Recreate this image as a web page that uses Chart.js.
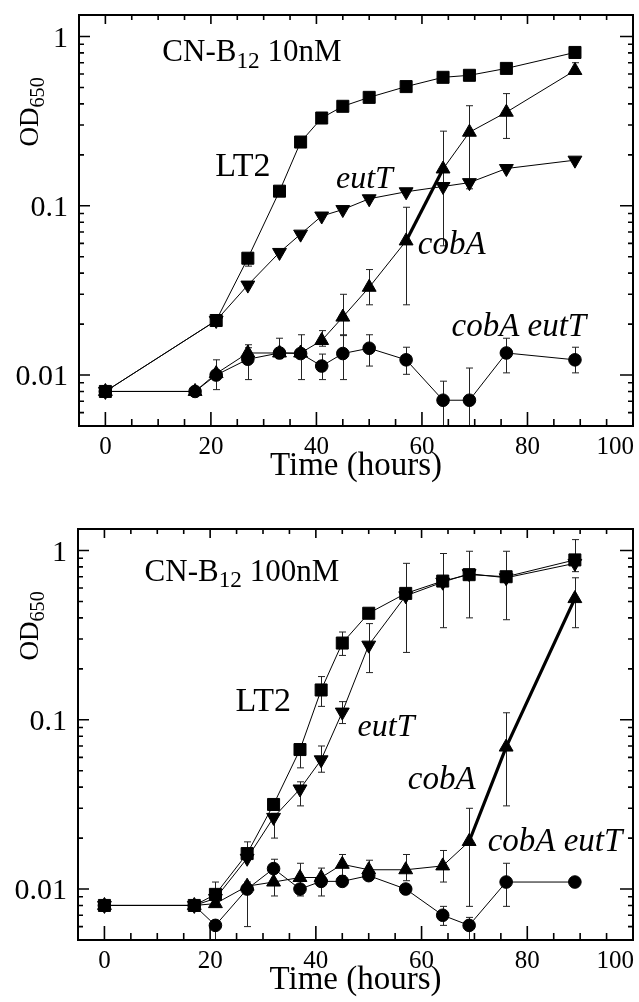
<!DOCTYPE html>
<html lang="en">
<head>
<meta charset="UTF-8">
<title>OD650 x tempo</title>
<script src="https://cdn.jsdelivr.net/npm/chart.js"></script>
<style>
  body { margin: 0; background: #fff; }
  canvas { position: absolute; left: 0; }
</style>
</head>
<body>
<canvas id="chart10" style="top:0px" width="639" height="500"></canvas>
<canvas id="chart100" style="top:500px" width="639" height="502"></canvas>

<script>
  // ---- dados do painel CN-B12 10nM ----
  var horas10 = [0, 17, 21, 27, 33, 37, 41, 45, 50, 57, 64, 69, 76, 89];
  var lt2_10 = [0.008, null, 0.021, 0.049, 0.122, 0.238, 0.33, 0.387, 0.437, 0.506, 0.574, 0.59, 0.648, 0.805];
  var eutT_10 = [0.008, null, 0.021, 0.034, 0.053, 0.068, 0.087, 0.095, 0.11, 0.121, 0.13, 0.137, 0.166, 0.186];
  var cobA_10 = [0.008, 0.008, 0.0102, 0.0135, 0.0135, 0.0135, 0.016, 0.022, 0.033, 0.062, 0.165, 0.272, 0.357, 0.63];
  var cobAeutT_10 = [0.008, 0.008, 0.01, 0.0124, 0.0135, 0.0134, 0.0113, 0.0134, 0.0144, 0.0123, 0.0071, 0.0071, 0.0135, 0.0123];
  // barras de erro [min, max]
  var erroLt2_10 = [null, null, null, [0.044, 0.05], null, null, null, null, null, null, null, null, null, null];
  var erroEutT_10 = [null, null, null, null, null, null, null, null, null, null, null, null, null, null];
  var erroCobA_10 = [null, null, null, [0.013, 0.0145], null, null, [0.0148, 0.0183], [0.0171, 0.030], [0.026, 0.042], [0.026, 0.098], [0.058, 0.276], [0.126, 0.39], [0.25, 0.46], [0.6, 0.7]];
  var erroCobAeutT_10 = [null, null, [0.0082, 0.0123], [0.0094, 0.0151], [0.0125, 0.0165], [0.0094, 0.0173], [0.0094, 0.0133], [0.0094, 0.0173], [0.0113, 0.0173], [0.0101, 0.0146], [0.0045, 0.0092], [0.0045, 0.011], [0.0103, 0.0165], [0.0103, 0.0146]];

  // ---- dados do painel CN-B12 100nM ----
  var horas100 = [0, 17, 21, 27, 32, 37, 41, 45, 50, 57, 64, 69, 76, 89];
  var lt2_100 = [0.008, 0.008, 0.0093, 0.0162, 0.0316, 0.0667, 0.15, 0.284, 0.426, 0.558, 0.66, 0.72, 0.70, 0.88];
  var eutT_100 = [0.008, 0.008, 0.0088, 0.0152, 0.0265, 0.039, 0.058, 0.111, 0.276, 0.54, 0.65, 0.73, 0.69, 0.84];
  var cobA_100 = [0.008, 0.008, 0.0082, 0.0104, 0.011, 0.0117, 0.0117, 0.014, 0.013, 0.013, 0.0137, 0.0191, 0.069, 0.52];
  var cobAeutT_100 = [0.008, 0.008, 0.0061, 0.01, 0.0132, 0.01, 0.0111, 0.0111, 0.012, 0.01, 0.007, 0.0061, 0.011, 0.011];
  var erroLt2_100 = [null, null, [0.0082, 0.011], [0.015, 0.019], null, [0.052, 0.07], [0.12, 0.18], [0.24, 0.33], null, [0.25, 0.84], [0.35, 0.96], [0.40, 0.99], [0.39, 0.99], [0.75, 1.16]];
  var erroEutT_100 = [null, null, null, null, [0.02, 0.028], [0.031, 0.043], [0.049, 0.07], [0.095, 0.128], [0.19, 0.37], null, null, null, null, null];
  var erroCobA_100 = [null, null, null, null, [0.0091, 0.015], [0.0091, 0.0142], null, [0.012, 0.016], [0.012, 0.0148], [0.0112, 0.016], [0.011, 0.0169], [0.0079, 0.03], [0.031, 0.11], [0.35, 0.69]];
  var erroCobAeutT_100 = [null, null, [0.0048, 0.0065], [0.006, 0.011], null, null, [0.0091, 0.0133], null, null, null, [0.0061, 0.0079], [0.0048, 0.0068], [0.0079, 0.0142], null];

  // eixos
  var ticksX = [0, 20, 40, 60, 80, 100];
  var ticksY = [0.01, 0.1, 1];
  var labelsY = ['0.01', '0.1', '1'];

  var serif = '"Liberation Serif", "DejaVu Serif", serif';

  function pontos(horas, valores, erros) {
    var lista = [];
    for (var i = 0; i < horas.length; i++) {
      if (valores[i] == null) continue;
      lista.push({ x: horas[i], y: valores[i], erro: erros[i] });
    }
    return lista;
  }

  function grossura(indices) {
    return function (ctx) {
      return indices.indexOf(ctx.p0DataIndex) >= 0 ? 3.2 : 1;
    };
  }

  function serie(dados, estilo, raio, rotacao, grossos) {
    return {
      data: dados,
      borderColor: '#000',
      borderWidth: 1,
      backgroundColor: '#000',
      pointStyle: estilo,
      pointRadius: raio,
      pointRotation: rotacao,
      pointBorderWidth: 1,
      pointBackgroundColor: '#000',
      pointBorderColor: '#000',
      spanGaps: true,
      tension: 0,
      segment: { borderWidth: grossura(grossos || []) }
    };
  }

  // desenha partes de texto com subscrito
  function textoPartes(ctx, partes, x, y, tam, italico) {
    var pos = x;
    partes.forEach(function (p) {
      var t = p.sub ? tam * 0.75 : tam;
      ctx.font = (italico ? 'italic ' : '') + t + 'px ' + serif;
      ctx.fillText(p.t, pos, y + (p.sub ? tam * 0.22 : 0));
      pos += ctx.measureText(p.t).width;
    });
    return pos - x;
  }

  var pluginEixos = {
    id: 'eixos',
    beforeDatasetsDraw: function (chart) {
      var ctx = chart.ctx, xs = chart.scales.x, ys = chart.scales.y, a = chart.chartArea;
      ctx.save();
      ctx.strokeStyle = '#222';
      ctx.lineWidth = 1;
      chart.data.datasets.forEach(function (ds) {
        ds.data.forEach(function (p) {
          if (!p.erro) return;
          var x = Math.round(xs.getPixelForValue(p.x)) + 0.5;
          var yMin = ys.getPixelForValue(p.erro[0]);
          var yMax = ys.getPixelForValue(p.erro[1]);
          ctx.beginPath();
          ctx.moveTo(x, Math.min(yMin, a.bottom));
          ctx.lineTo(x, yMax);
          ctx.moveTo(x - 3.5, yMax);
          ctx.lineTo(x + 3.5, yMax);
          if (yMin < a.bottom) {
            ctx.moveTo(x - 3.5, yMin);
            ctx.lineTo(x + 3.5, yMin);
          }
          ctx.stroke();
        });
      });
      ctx.restore();
    },
    afterDraw: function (chart, args, opcoes) {
      var ctx = chart.ctx, xs = chart.scales.x, ys = chart.scales.y, a = chart.chartArea;
      ctx.save();
      ctx.strokeStyle = '#000';
      ctx.fillStyle = '#000';

      // moldura
      ctx.lineWidth = 2;
      ctx.strokeRect(a.left, a.top, a.right - a.left, a.bottom - a.top);

      // marcas do eixo x
      ctx.lineWidth = 1.6;
      ctx.beginPath();
      for (var v = 0; v < 100; v += 5) {
        var px = xs.getPixelForValue(v);
        var maior = v % 20 === 0;
        ctx.moveTo(px, a.bottom);
        ctx.lineTo(px, a.bottom - (maior ? 14 : 7));
        ctx.moveTo(px, a.top);
        ctx.lineTo(px, a.top + (maior ? 9 : 5));
      }
      // marcas do eixo y (log)
      for (var d = -3; d <= 0; d++) {
        for (var k = 1; k <= 9; k++) {
          var val = k * Math.pow(10, d);
          if (val <= ys.min * 1.001 || val >= ys.max) continue;
          var py = ys.getPixelForValue(val);
          var grande = k === 1;
          ctx.moveTo(a.left, py);
          ctx.lineTo(a.left + (grande ? 11 : 5), py);
          ctx.moveTo(a.right, py);
          ctx.lineTo(a.right - (grande ? 13 : 5), py);
        }
      }
      ctx.stroke();

      // rótulos do eixo x
      ctx.font = '25px ' + serif;
      ctx.textAlign = 'center';
      ctx.textBaseline = 'alphabetic';
      ticksX.forEach(function (t) {
        var px = xs.getPixelForValue(t);
        var w = ctx.measureText(String(t)).width;
        px = Math.min(px, a.right + 1 - w / 2);
        ctx.fillText(String(t), px, a.bottom + 28);
      });

      // rótulos do eixo y
      ctx.font = '30px ' + serif;
      ctx.textAlign = 'right';
      ticksY.forEach(function (t, i) {
        ctx.fillText(labelsY[i], a.left - 11, ys.getPixelForValue(t) + 10);
      });

      // título do eixo x
      ctx.font = '33px ' + serif;
      ctx.textAlign = 'center';
      ctx.fillText('Time (hours)', (a.left + a.right) / 2, a.bottom + 49);

      // título do eixo y: OD650
      ctx.textAlign = 'left';
      ctx.save();
      ctx.translate(38, a.top + 97);
      ctx.rotate(-Math.PI / 2);
      ctx.font = '27px ' + serif;
      var wOD = ctx.measureText('OD').width;
      ctx.font = '20px ' + serif;
      var w650 = ctx.measureText('650').width;
      textoPartes(ctx, [{ t: 'OD' }, { t: '650', sub: true }], -(wOD + w650) / 2, 0, 27, false);
      ctx.restore();

      // anotações
      (opcoes.rotulos || []).forEach(function (r) {
        var x = xs.getPixelForValue(r.hora);
        var y = ys.getPixelForValue(r.od);
        textoPartes(ctx, r.partes, x, y, r.tamanho, r.italico);
      });

      ctx.restore();
    }
  };

  function criarGrafico(id, datasets, topo, alturaX, larguraY, rotulos) {
    return new Chart(document.getElementById(id), {
      type: 'line',
      data: { datasets: datasets },
      options: {
        responsive: false,
        animation: false,
        layout: { autoPadding: false, padding: { top: topo, right: 6, left: 0, bottom: 0 } },
        plugins: {
          legend: { display: false },
          tooltip: { enabled: false },
          eixos: { rotulos: rotulos }
        },
        scales: {
          x: {
            type: 'linear', min: -5, max: 100,
            grid: { display: false }, border: { display: false }, ticks: { display: false },
            afterFit: function (s) { s.height = alturaX; s.paddingLeft = 0; s.paddingRight = 0; }
          },
          y: {
            type: 'logarithmic', min: 0.005, max: 1.34,
            grid: { display: false }, border: { display: false }, ticks: { display: false },
            afterFit: function (s) { s.width = larguraY; s.paddingTop = 0; s.paddingBottom = 0; }
          }
        }
      },
      plugins: [pluginEixos]
    });
  }

  var grafico10 = criarGrafico('chart10', [
    serie(pontos(horas10, cobAeutT_10, erroCobAeutT_10), 'circle', 6.3, 0),
    serie(pontos(horas10, cobA_10, erroCobA_10), 'triangle', 8, 0, [9]),
    serie(pontos(horas10, eutT_10, erroEutT_10), 'triangle', 8, 180),
    serie(pontos(horas10, lt2_10, erroLt2_10), 'rect', 8.5, 0)
  ], 15, 74, 79, [
    { partes: [{ t: 'CN-B' }, { t: '12', sub: true }, { t: ' 10nM' }], hora: 10.8, od: 0.712, tamanho: 31, italico: false },
    { partes: [{ t: 'LT2' }], hora: 20.8, od: 0.15, tamanho: 34, italico: false },
    { partes: [{ t: 'eutT' }], hora: 43.7, od: 0.127, tamanho: 32, italico: true },
    { partes: [{ t: 'cobA' }], hora: 59.2, od: 0.052, tamanho: 33, italico: true },
    { partes: [{ t: 'cobA eutT' }], hora: 65.6, od: 0.017, tamanho: 33, italico: true }
  ]);

  var grafico100 = criarGrafico('chart100', [
    serie(pontos(horas100, cobAeutT_100, erroCobAeutT_100), 'circle', 6.3, 0),
    serie(pontos(horas100, cobA_100, erroCobA_100), 'triangle', 8, 0, [11, 12]),
    serie(pontos(horas100, eutT_100, erroEutT_100), 'triangle', 8, 180),
    serie(pontos(horas100, lt2_100, erroLt2_100), 'rect', 8.5, 0)
  ], 29, 62, 78, [
    { partes: [{ t: 'CN-B' }, { t: '12', sub: true }, { t: ' 100nM' }], hora: 7.6, od: 0.665, tamanho: 31, italico: false },
    { partes: [{ t: 'LT2' }], hora: 24.8, od: 0.112, tamanho: 34, italico: false },
    { partes: [{ t: 'eutT' }], hora: 47.9, od: 0.08, tamanho: 32, italico: true },
    { partes: [{ t: 'cobA' }], hora: 57.4, od: 0.039, tamanho: 33, italico: true },
    { partes: [{ t: 'cobA eutT' }], hora: 72.5, od: 0.0168, tamanho: 33, italico: true }
  ]);
</script>
</body>
</html>
